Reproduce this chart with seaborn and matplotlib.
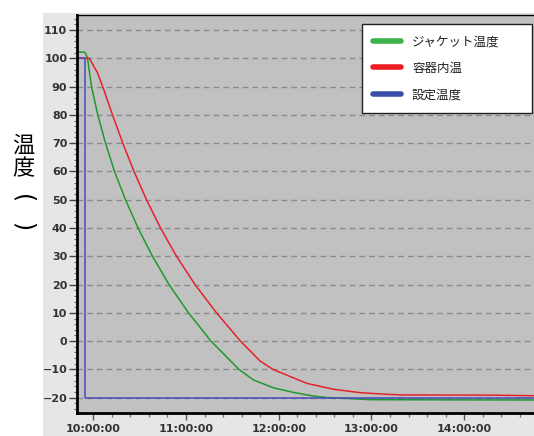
import matplotlib
matplotlib.use("Agg")
import numpy as np
import pandas as pd
import matplotlib.pyplot as plt
import matplotlib.dates as mdates
import seaborn as sns
from matplotlib.lines import Line2D
from matplotlib.patches import Rectangle

# ---- data (minutes relative to 10:00:00, temperature) ----
series_names = ["ジャケット温度", "容器内温", "設定温度"]

green_min = [-10.5, -6.0, -5.0, -3.75, -1.17, 2.91, 7.90, 13.72, 20.84, 28.93, 38.32, 49.0,
             61.62, 76.18, 94.3, 103.6, 116.5, 129.4, 142.4, 151.1, 165.0, 180.0, 285.0]
green_val = [102.2, 102.2, 101.8, 100, 90, 80, 70, 60, 50, 40, 30, 20,
             10, 0, -10, -13.7, -16.5, -18.1, -19.4, -19.9, -20.3, -20.7, -20.8]

red_min = [-10.5, -2.6, 2.6, 6.08, 12.43, 19.09, 26.34, 34.43, 43.5, 53.85, 65.83, 79.74,
           95.28, 107.9, 116.31, 138.1, 155.3, 172.6, 189.9, 200.0, 260.0, 285.0]
red_val = [100, 100, 95, 90, 80, 70, 60, 50, 40, 30, 20, 10,
           0, -7.0, -10, -14.9, -17.0, -18.2, -18.8, -19.0, -19.1, -19.3]

blue_min = [-10.5, -5.2, -5.2, 285.0]
blue_val = [100, 100, -20, -20]

y_ticks = list(range(-20, 111, 10))
x_range_min = (-10.55, 285.2)
y_range = (-25.4, 115.3)

line_colors = {"ジャケット温度": "#1f9a2e", "容器内温": "#e5222b", "設定温度": "#4b4bc0"}
legend_colors = ["#3cb04a", "#ee1c25", "#3b4fa8"]

# ---- build frame ----
base = pd.Timestamp("2020-01-01 10:00:00")


def to_time(m):
    return base + pd.to_timedelta(np.asarray(m, dtype=float), unit="m")


frames = []
for name, mins, vals in zip(series_names, [green_min, red_min, blue_min],
                            [green_val, red_val, blue_val]):
    frames.append(pd.DataFrame({"time": to_time(mins), "temp": vals, "series": name}))
df = pd.concat(frames, ignore_index=True)

sns.set_theme(style="white")
plt.rcParams["font.family"] = ["DejaVu Sans"]
plt.rcParams["font.weight"] = "bold"

W, H = 534, 436
fig = plt.figure(figsize=(W / 100, H / 100), dpi=100)
fig.patch.set_facecolor("white")
fig.patches.append(Rectangle((43 / W, 0), 1 - 43 / W, 1 - 13 / H, transform=fig.transFigure,
                             facecolor="#e6e6e6", edgecolor="none", zorder=-1))

ax = fig.add_axes([77 / W, 1 - 413 / H, 1 - 77 / W, (413 - 15) / H])
ax.set_facecolor("#c1c1c1")

sns.lineplot(data=df, x="time", y="temp", hue="series", palette=line_colors,
             hue_order=series_names, estimator=None, sort=False, linewidth=1.1,
             ax=ax, legend=False)

ax.set_xlim(to_time([x_range_min[0]])[0], to_time([x_range_min[1]])[0])
ax.set_ylim(*y_range)
ax.set_xlabel("")
ax.set_ylabel("")

ax.set_yticks(y_ticks)
ax.set_yticks(np.arange(-24, 115, 2), minor=True)
ax.xaxis.set_major_locator(mdates.HourLocator())
ax.xaxis.set_major_formatter(mdates.DateFormatter("%H:%M:%S"))
ax.xaxis.set_minor_locator(mdates.MinuteLocator(byminute=[12, 24, 36, 48]))

ax.tick_params(which="both", bottom=True, left=True, direction="out")
ax.tick_params(axis="x", which="major", length=5, width=1, color="#555555", pad=3,
               labelsize=8, labelcolor="#333333")
ax.tick_params(axis="x", which="minor", length=3, width=1, color="#777777")
ax.tick_params(axis="y", which="major", length=6, width=1, color="#444444", pad=1,
               labelsize=8, labelcolor="#333333")
ax.tick_params(axis="y", which="minor", length=2, width=0.8, color="#666666")

ax.yaxis.grid(True, linestyle=(0, (4, 3)), color="#8a8a8a", linewidth=1)
ax.xaxis.grid(False)

for s in ["left", "bottom"]:
    ax.spines[s].set_linewidth(2)
    ax.spines[s].set_color("black")
ax.spines["top"].set_linewidth(1)
ax.spines["top"].set_color("black")
ax.spines["right"].set_visible(False)

# legend
handles = [Line2D([0], [0], color=c, lw=4) for c in legend_colors]
ax_w, ax_h = W - 77, 413 - 15
leg = ax.legend(handles, series_names, loc="upper left",
                bbox_to_anchor=((362 - 77) / ax_w, (413 - 108) / ax_h,
                                (532 - 362) / ax_w, (108 - 24) / ax_h),
                mode="expand", fancybox=False, framealpha=1, facecolor="white",
                edgecolor="#222222", borderpad=0.9, labelspacing=1.08,
                handlelength=2.2, handletextpad=0.9, borderaxespad=0,
                prop={"family": ["Noto Sans CJK JP", "DejaVu Sans"], "size": 9,
                      "weight": "normal"})
leg.get_frame().set_linewidth(1)
for t in leg.get_texts():
    t.set_color("#222222")

# vertical y label: 温 度 and parentheses turned to vertical form
ylab_chars = ["温", "度"]
ylab_y = [145, 168.5]
for ch, yy in zip(ylab_chars, ylab_y):
    fig.text(23 / W, 1 - yy / H, ch, ha="center", va="center", fontsize=16,
             family=["Noto Sans CJK JP", "DejaVu Sans"], weight="normal", color="black")
paren_chars = ["(", ")"]
paren_y = [199, 226.5]
for ch, yy in zip(paren_chars, paren_y):
    fig.text(23 / W, 1 - yy / H, ch, ha="center", va="center", fontsize=17, rotation=-90,
             family="DejaVu Sans", weight="normal", color="black")

fig.savefig("out.png", dpi=100)
